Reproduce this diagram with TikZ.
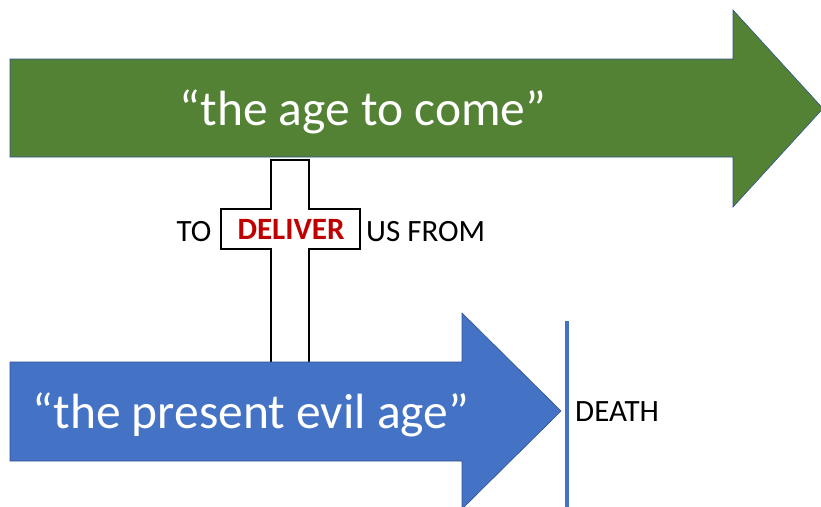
\documentclass[tikz,border=0pt]{standalone}
\usepackage{fontspec}
\setmainfont{Carlito}
\definecolor{agegreen}{HTML}{548235}
\definecolor{ageblue}{HTML}{4472C4}
\definecolor{edgeblue}{HTML}{2F528F}
\definecolor{delred}{HTML}{C00000}
\begin{document}
\begin{tikzpicture}[x=1pt,y=-1pt,
  bigarrow/.style={draw=edgeblue,line width=0.6pt,line join=miter},
  bigtext/.style={text=white,font=\fontsize{49.5}{52}\selectfont,inner sep=0pt,anchor=base},
  smalltext/.style={text=black,font=\fontsize{31}{33}\selectfont,inner sep=0pt,anchor=base},
  crossbox/.style={draw=black,fill=white,line width=1.8pt,line join=miter}]
\useasboundingbox (0,0) rectangle (821,506);
\clip (0,0) rectangle (821,506);
% green arrow
\draw[bigarrow,fill=agegreen] (10,59) -- (733,59) -- (733,10) -- (823,108.5) -- (733,207) -- (733,157) -- (10,157) -- cycle;
% cross
\draw[crossbox] (271,160) -- (309,160) -- (309,209) -- (360,209) -- (360,249) -- (309,249) -- (309,364) -- (271,364) -- (271,249) -- (221,249) -- (221,209) -- (271,209) -- cycle;
% blue arrow
\draw[bigarrow,fill=ageblue] (10,362) -- (462,362) -- (462,313) -- (561,411) -- (462,509) -- (462,461) -- (10,461) -- cycle;
% death line
\coordinate (dtop) at (567,321);
\coordinate (dbot) at (567,510);
\draw[ageblue,line width=4pt] (dtop) -- (dbot);
% texts
\node[bigtext] (come) at (363,125) {“the age to come”};
\node[bigtext] (evil) at (251,428) {“the present evil age”};
\node[smalltext] (to) at (194,241) {TO};
\node[smalltext,text=delred,font=\bfseries\fontsize{31}{33}\selectfont] (deliver) at (291,239) {DELIVER};
\node[smalltext,anchor=base west] (from) at (366,241) {US FROM};
\node[smalltext,anchor=base west] (death) at (575,421) {DEATH};
\end{tikzpicture}
\end{document}
